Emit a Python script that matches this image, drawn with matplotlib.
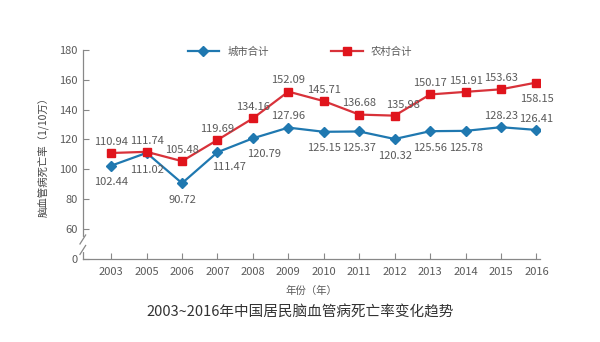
import matplotlib
matplotlib.use("Agg")
import matplotlib.pyplot as plt

plt.rcParams['font.family'] = ['Noto Sans CJK SC', 'DejaVu Sans']

years = ['2003', '2005', '2006', '2007', '2008', '2009', '2010',
         '2011', '2012', '2013', '2014', '2015', '2016']
city = [102.44, 111.02, 90.72, 111.47, 120.79, 127.96, 125.15,
        125.37, 120.32, 125.56, 125.78, 128.23, 126.41]
rural = [110.94, 111.74, 105.48, 119.69, 134.16, 152.09, 145.71,
         136.68, 135.98, 150.17, 151.91, 153.63, 158.15]
yticks = [40, 60, 80, 100, 120, 140, 160, 180]
yticklabels = ['0', '60', '80', '100', '120', '140', '160', '180']

# label offsets (points): city below except a few, rural above
city_off = [(0, -12), (0, -12), (0, -12), (8, -11), (8, -11), (0, 8), (0, -12),
            (0, -12), (0, -12), (0, -12), (0, -12), (0, 8), (0, 8)]
rural_off = [(0, 8), (0, 8), (0, 8), (0, 8), (0, 8), (0, 8), (0, 8),
             (0, 8), (6, 8), (0, 8), (0, 8), (0, 8), (0, -12)]

blue = '#1f78b0'
red = '#e0141c'
grey = '#888888'
tc = '#5a5a5a'

fig = plt.figure(figsize=(6, 3.42), dpi=100)
ax = fig.add_axes([0.138, 0.243, 0.762, 0.611])

x = list(range(len(years)))
l1, = ax.plot(x, city, color=blue, lw=1.6, marker='D', ms=5, mfc=blue, mec=blue,
              label='城市合计')
l2, = ax.plot(x, rural, color='#d8323a', lw=1.6, marker='s', ms=5.5, mfc=red, mec=red,
              label='农村合计')

for i in x:
    ax.annotate(f'{city[i]:.2f}', (i, city[i]), xytext=city_off[i], textcoords='offset points',
                ha='center', va='center', fontsize=8, color=tc)
    ax.annotate(f'{rural[i]:.2f}', (i, rural[i]), xytext=rural_off[i], textcoords='offset points',
                ha='center', va='center', fontsize=8, color=tc)

ax.set_xlim(-0.8, 12.1)
ax.set_ylim(40, 180)
ax.set_xticks(x)
ax.set_xticklabels(years)
ax.set_yticks(yticks)
ax.set_yticklabels(yticklabels)
ax.tick_params(direction='in', length=4, width=0.8, color=grey, labelcolor=tc, labelsize=8)
ax.tick_params(axis='x', pad=6)
for s in ['top', 'right']:
    ax.spines[s].set_visible(False)
for s in ['left', 'bottom']:
    ax.spines[s].set_color(grey)
    ax.spines[s].set_linewidth(0.9)

# axis break on the y spine
ax.plot([-0.8, -0.8], [46, 53], color='white', lw=3, clip_on=False, zorder=5)
for yb in [46, 53]:
    ax.plot([-0.88, -0.72], [yb - 3, yb + 3], color=grey, lw=0.9, clip_on=False, zorder=6)

ax.set_ylabel('脑血管病死亡率（1/10万）', fontsize=7.5, color='#444444', labelpad=8)
ax.set_xlabel('年份（年）', fontsize=7.5, color=tc, labelpad=6)

fig.legend(handles=[l1, l2], loc='center', bbox_to_anchor=(0.5, 0.848), ncol=2,
           frameon=False, fontsize=7.5, handlelength=3, columnspacing=6, labelcolor=tc)

fig.text(0.5, 0.085, '2003~2016年中国居民脑血管病死亡率变化趋势', ha='center', va='center',
         fontsize=10.5, color='#333333')

fig.savefig('out.png', dpi=100)
